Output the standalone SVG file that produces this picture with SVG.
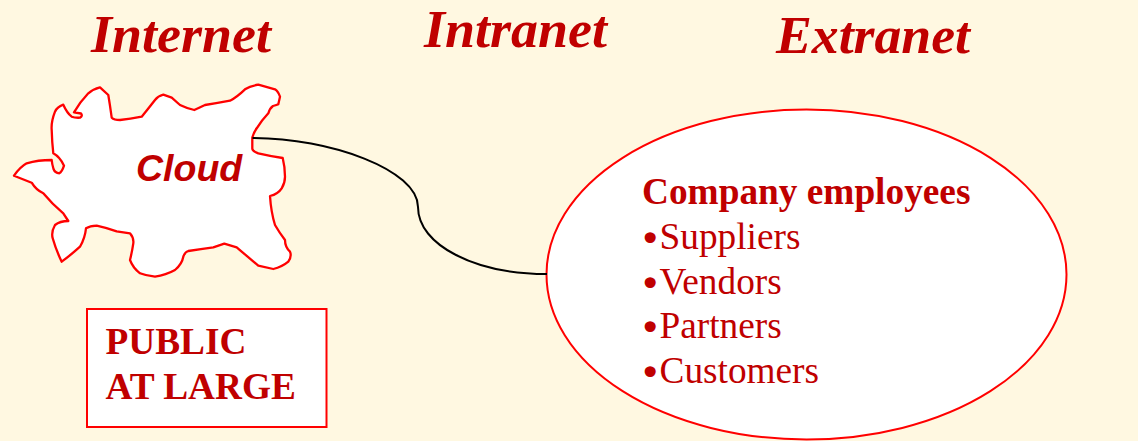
<svg xmlns="http://www.w3.org/2000/svg" width="1138" height="441" viewBox="0 0 1138 441">
<style>
.t{font-family:"Liberation Serif","Times New Roman",serif;fill:#c00000}
.h{font-size:52.500px;font-weight:bold;font-style:italic}
.b{font-size:37.300px;font-weight:bold}
.l{font-size:37.300px}
.d{font-family:"DejaVu Sans",sans-serif;font-size:38px}
.s{fill:#fff;stroke:#ff0000;stroke-width:2.300}
.e{fill:#fff;stroke:#ff0000;stroke-width:2}
</style>
<rect width="1138" height="441" fill="#fff8e1"/>
<g id="titles">
<text class="t h" x="91" y="52" textLength="180" lengthAdjust="spacingAndGlyphs">Internet</text>
<text class="t h" x="424" y="46.500" textLength="183" lengthAdjust="spacingAndGlyphs">Intranet</text>
<text class="t h" x="776" y="52.500" textLength="194" lengthAdjust="spacingAndGlyphs">Extranet</text>
</g>
<g id="cloud">
<path class="s" stroke-linejoin="round" d="M252.300 137.700Q254 132 256.700 128.300Q262 120 268.300 113.300Q270 108 273 106Q277 105 278.300 104.300L280 96.700Q278 91 275 89.300L258.300 84.700Q250 86 245 89.300Q237 97 230 100.700Q218 103 205 105L194.300 110Q186 108 180 105L171.700 97.700L163.300 94.700Q158 96 155 100Q148 109 141.700 116.700Q130 119 120 120Q114 120 111.700 117.700Q110 105 108.300 95L100 87.300Q93 89 88.300 93.300Q80 102 74 112.300L81 113.500Q83 116 80 117.700Q75 118 71.700 116.700Q67 113 63.300 104.700Q57 107 55 111.700Q51 122 51.700 130Q52 142 53.300 153.300Q60 157 64 165.700Q62 172 59.300 173.300Q55 173 53.500 169Q52 164 51.700 160Q38 160 26.700 163.300Q20 167 14 175.700L31.700 182.700Q36 190 43.300 193.300Q52 204 63.300 213.300L68.300 221Q60 221 55 225Q51 232 52.700 238.300Q56 250 61.700 261.700Q72 254 80 246.700Q85 238 86 228.300Q90 226 96.700 225.700Q107 228 116.700 231.300L130 233.300Q134 238 133.300 243.300Q132 252 130 260Q133 268 140 273.300Q147 276 155 276.700Q166 275 175 270Q182 264 183.300 256.700Q185 252 188.300 251Q201 249 213.300 247.300L224.300 243.700L236.700 247.300Q248 257 258.300 265.700L273.300 269Q282 267 288.300 261.700Q292 256 290 251.700Q285 247 285 240Q279 232 275 225Q271 212 270 196Q278 194 281.700 188.300Q285 183 285 176.700Q285 167 282.700 158Q270 156 258.300 153.300Q252 151 252.300 148.300Z"/>
<text x="136" y="181" font-family="'Liberation Sans',Arial,sans-serif" font-size="37.500" font-weight="bold" font-style="italic" fill="#c00000">Cloud</text>
</g>
<g id="public">
<rect x="87" y="309" width="239.500" height="118" fill="#fff" stroke="#ff0000" stroke-width="2"/>
<text class="t b" x="105.500" y="354">PUBLIC</text>
<text class="t b" x="105.500" y="399">AT LARGE</text>
</g>
<g id="extranet">
<ellipse class="e" cx="806.500" cy="274.500" rx="260" ry="165"/>
<text class="t b" x="642" y="204">Company employees</text>
<text class="t l" x="639" y="248.500"><tspan class="d" dy="3">•</tspan><tspan x="659.500" dy="-3">Suppliers</tspan></text>
<text class="t l" x="639" y="293.500"><tspan class="d" dy="3">•</tspan><tspan x="659.500" dy="-3">Vendors</tspan></text>
<text class="t l" x="639" y="338"><tspan class="d" dy="3">•</tspan><tspan x="659.500" dy="-3">Partners</tspan></text>
<text class="t l" x="639" y="383"><tspan class="d" dy="3">•</tspan><tspan x="659.500" dy="-3">Customers</tspan></text>
</g>
<g id="connectors">
<path d="M252.500 138C330 138 418 170 418 207C418 245 475 274 547 274" fill="none" stroke="#000" stroke-width="2"/>
</g>
</svg>
